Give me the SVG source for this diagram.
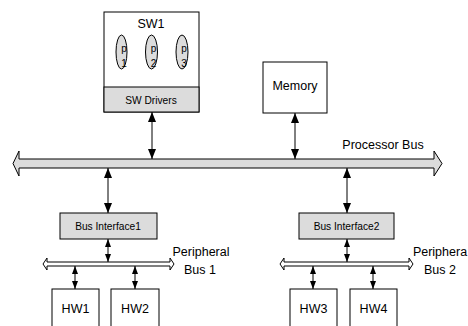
<svg xmlns="http://www.w3.org/2000/svg" width="468" height="326" viewBox="0 0 468 326">
<style>
.box{fill:#fff;stroke:#000;stroke-width:1}
.gbox{fill:#dcdcdc;stroke:#000;stroke-width:1}
.bus{fill:#dcdcdc;stroke:#000;stroke-width:1}
.pbus{fill:#fff;stroke:#000;stroke-width:1}
.t{font-family:"Liberation Sans",Arial,sans-serif;font-size:12.5px;fill:#000;text-anchor:middle}
.ts{font-family:"Liberation Sans",Arial,sans-serif;font-size:10.2px;fill:#000;text-anchor:middle}
.tp{font-family:"Liberation Sans",Arial,sans-serif;font-size:10px;fill:#000;text-anchor:middle}
.ln{stroke:#000;stroke-width:1;fill:none}
.big{marker-start:url(#ah);marker-end:url(#ah)}
.sm{marker-start:url(#as);marker-end:url(#as)}
</style>
<defs>
<marker id="ah" markerUnits="userSpaceOnUse" markerWidth="10" markerHeight="8" refX="10" refY="4" orient="auto-start-reverse" viewBox="0 0 10 8"><path d="M0,0 L10,4 L0,8 Z" fill="#000"/></marker>
<marker id="as" markerUnits="userSpaceOnUse" markerWidth="8" markerHeight="6" refX="8" refY="3" orient="auto-start-reverse" viewBox="0 0 8 6"><path d="M0,0 L8,3 L0,6 Z" fill="#000"/></marker>
</defs>

<g id="processor-bus">
<path class="bus" d="M13,163.5 L19,151 L19,159 L434,159 L434,151 L442,163.5 L434,176 L434,168 L19,168 L19,176 Z"/>
<text class="t" x="383" y="149">Processor Bus</text>
</g>

<g id="peripheral-bus-1">
<path class="pbus" d="M43,264 L47,258 L47,262 L170,262 L170,258 L174,264 L170,270 L170,266 L47,266 L47,270 Z"/>
<text class="t" x="201" y="256">Peripheral</text>
<text class="t" x="200" y="274">Bus 1</text>
</g>

<g id="peripheral-bus-2">
<path class="pbus" d="M280,264 L284,258 L284,262 L409,262 L409,258 L413,264 L409,270 L409,266 L284,266 L284,270 Z"/>
<text class="t" x="440" y="256">Periphera</text>
<text class="t" x="440" y="274">Bus 2</text>
</g>

<g id="sw1">
<rect class="box" x="104" y="12" width="95" height="100"/>
<rect class="gbox" x="104" y="87" width="95" height="25"/>
<text class="t" x="151" y="28">SW1</text>
<text class="ts" x="151" y="104">SW Drivers</text>
<ellipse class="gbox" cx="121.5" cy="52" rx="5.5" ry="17"/>
<ellipse class="gbox" cx="151.5" cy="52" rx="6" ry="17"/>
<ellipse class="gbox" cx="182" cy="52" rx="6" ry="17"/>
<text class="tp" x="124" y="52">p</text><text class="tp" x="124" y="67">1</text>
<text class="tp" x="153.5" y="52">p</text><text class="tp" x="153.5" y="67">2</text>
<text class="tp" x="184" y="52">p</text><text class="tp" x="184" y="67">3</text>
</g>

<g id="memory">
<rect class="box" x="263" y="62" width="64" height="51"/>
<text class="t" x="295" y="90">Memory</text>
</g>

<g id="bus-interface1">
<rect class="gbox" x="60" y="213" width="97" height="26"/>
<text class="ts" x="108" y="230">Bus Interface1</text>
</g>

<g id="bus-interface2">
<rect class="gbox" x="299" y="213" width="95" height="26"/>
<text class="ts" x="346.5" y="230">Bus Interface2</text>
</g>

<g id="hw1"><rect class="box" x="52" y="289" width="47" height="45"/><text class="t" x="75.5" y="313">HW1</text></g>
<g id="hw2"><rect class="box" x="111" y="289" width="48" height="45"/><text class="t" x="135" y="313">HW2</text></g>
<g id="hw3"><rect class="box" x="290" y="289" width="47" height="45"/><text class="t" x="313.5" y="313">HW3</text></g>
<g id="hw4"><rect class="box" x="350" y="289" width="47" height="45"/><text class="t" x="373.5" y="313">HW4</text></g>

<g id="connectors">
<line class="ln big" x1="152" y1="112" x2="152" y2="159"/>
<line class="ln big" x1="295" y1="113" x2="295" y2="159"/>
<line class="ln big" x1="108" y1="168" x2="108" y2="213"/>
<line class="ln big" x1="347" y1="168" x2="347" y2="213"/>
<line class="ln sm" x1="108" y1="239" x2="108" y2="262"/>
<line class="ln sm" x1="75" y1="266" x2="75" y2="289"/>
<line class="ln sm" x1="135" y1="266" x2="135" y2="289"/>
<line class="ln sm" x1="347" y1="239" x2="347" y2="262"/>
<line class="ln sm" x1="313" y1="266" x2="313" y2="289"/>
<line class="ln sm" x1="373" y1="266" x2="373" y2="289"/>
</g>
</svg>
